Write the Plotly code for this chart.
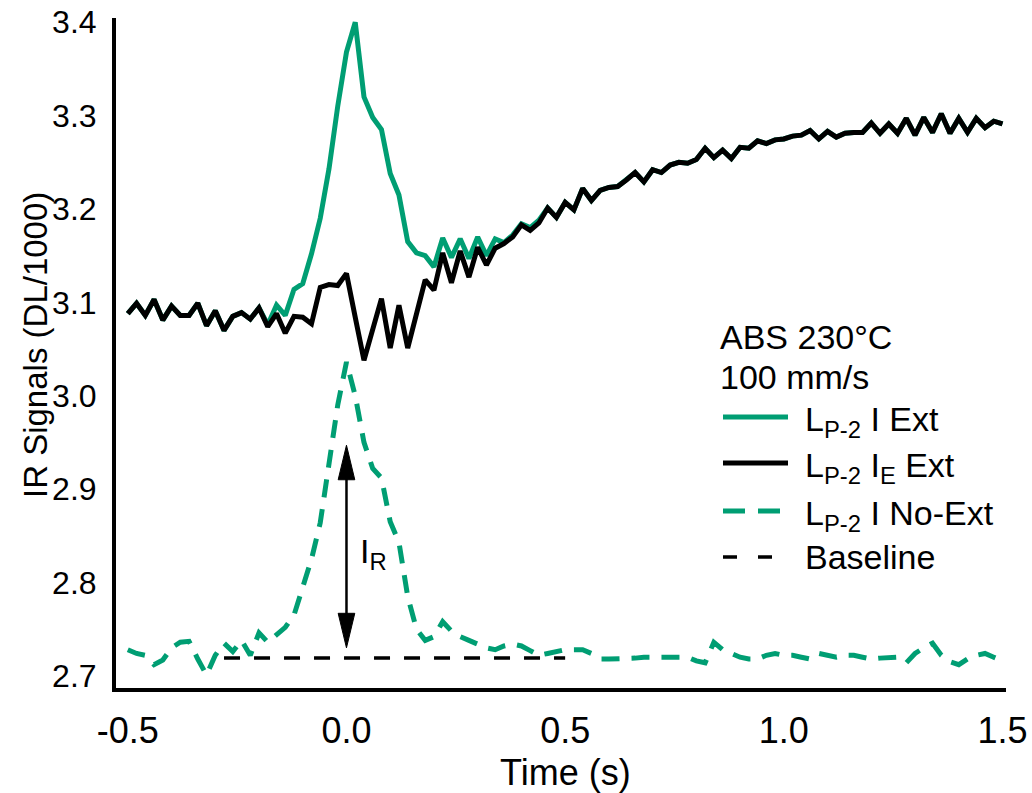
import plotly.graph_objects as go

# ---------------- data ----------------
TIME_START = -0.5
TIME_STEP = 0.02

ie_ext = [  # L_P-2 I_E Ext (black)
    3.088, 3.099, 3.086, 3.103, 3.081, 3.096, 3.086, 3.086, 3.099, 3.075,
    3.091, 3.070, 3.085, 3.089, 3.082, 3.094, 3.074, 3.088, 3.067, 3.085,
    3.084, 3.077, 3.116, 3.119, 3.118, 3.131, 3.084, 3.038, 3.071, 3.104,
    3.051, 3.097, 3.051, 3.087, 3.124, 3.113, 3.153, 3.121, 3.155, 3.127,
    3.159, 3.140, 3.158, 3.163, 3.170, 3.183, 3.177, 3.185, 3.201, 3.191,
    3.207, 3.199, 3.222, 3.209, 3.220, 3.223, 3.224, 3.231, 3.239, 3.229,
    3.242, 3.239, 3.247, 3.250, 3.249, 3.253, 3.265, 3.255, 3.263, 3.254,
    3.266, 3.265, 3.273, 3.270, 3.274, 3.275, 3.278, 3.279, 3.284, 3.275,
    3.283, 3.277, 3.281, 3.282, 3.282, 3.292, 3.281, 3.291, 3.281, 3.297,
    3.279, 3.298, 3.282, 3.302, 3.281, 3.297, 3.282, 3.297, 3.287, 3.294,
    3.291,
]

i_ext = [  # L_P-2 I Ext (green solid)
    3.088, 3.099, 3.086, 3.103, 3.081, 3.096, 3.086, 3.086, 3.099, 3.075,
    3.091, 3.070, 3.085, 3.089, 3.082, 3.094, 3.076, 3.097, 3.086, 3.114,
    3.120, 3.152, 3.190, 3.243, 3.310, 3.368, 3.400, 3.320, 3.298, 3.285,
    3.238, 3.215, 3.165, 3.153, 3.150, 3.138, 3.169, 3.148, 3.168, 3.147,
    3.170, 3.150, 3.168, 3.164, 3.172, 3.184, 3.180, 3.188, 3.201, 3.191,
    3.207, 3.199, 3.222, 3.209, 3.220, 3.223, 3.224, 3.231, 3.239, 3.229,
    3.242, 3.239, 3.247, 3.250, 3.249, 3.253, 3.265, 3.255, 3.263, 3.254,
    3.266, 3.265, 3.273, 3.270, 3.274, 3.275, 3.278, 3.279, 3.284, 3.275,
    3.283, 3.277, 3.281, 3.282, 3.282, 3.292, 3.281, 3.291, 3.281, 3.297,
    3.279, 3.298, 3.282, 3.302, 3.281, 3.297, 3.282, 3.297, 3.287, 3.294,
    3.291,
]

i_noext = [  # L_P-2 I No-Ext (green dashed)
    2.728, 2.724, 2.722, 2.712, 2.717, 2.730, 2.736, 2.737, 2.718, 2.701,
    2.722, 2.735, 2.726, 2.738, 2.722, 2.746, 2.736, 2.744, 2.752, 2.765,
    2.795, 2.825, 2.864, 2.925, 2.990, 3.036, 3.000, 2.950, 2.922, 2.912,
    2.865, 2.843, 2.785, 2.750, 2.738, 2.742, 2.758, 2.748, 2.742, 2.738,
    2.734, 2.730, 2.728, 2.732, 2.734, 2.732, 2.727, 2.722, 2.724, 2.726,
    2.728, 2.728, 2.728, 2.724, 2.718, 2.718, 2.718, 2.718, 2.719, 2.720,
    2.720, 2.720, 2.720, 2.719, 2.720, 2.716, 2.714, 2.736, 2.728, 2.724,
    2.720, 2.718, 2.718, 2.722, 2.724, 2.722, 2.722, 2.720, 2.718, 2.724,
    2.722, 2.720, 2.722, 2.722, 2.720, 2.718, 2.719, 2.720, 2.720, 2.714,
    2.724, 2.730, 2.735, 2.722, 2.715, 2.712, 2.718, 2.722, 2.724, 2.720,
    2.716,
]

time = [round(TIME_START + TIME_STEP * k, 2) for k in range(len(ie_ext))]

baseline_t = [-0.28, 0.50]
baseline_v = [2.719, 2.719]

ir_t = 0.0
ir_top = 2.947
ir_bottom = 2.730

x_ticks = [-0.5, 0.0, 0.5, 1.0, 1.5]
x_tick_labels = ["-0.5", "0.0", "0.5", "1.0", "1.5"]
y_ticks = [2.7, 2.8, 2.9, 3.0, 3.1, 3.2, 3.3, 3.4]
y_tick_labels = ["2.7", "2.8", "2.9", "3.0", "3.1", "3.2", "3.3", "3.4"]

legend_header = ["ABS 230°C", "100 mm/s"]
legend_labels = ["L<sub>P-2</sub> I Ext", "L<sub>P-2</sub> I<sub>E</sub> Ext",
                 "L<sub>P-2</sub> I No-Ext", "Baseline"]

# ---------------- style ----------------
GREEN = "#009E73"
W, H = 1032, 793
ML, MR, MT, MB = 116, 26, 18, 105
PW, PH = W - ML - MR, H - MT - MB
FONT = "Liberation Sans, Arial, sans-serif"


def px_x(px):
    return (px - ML) / PW


def px_y(py):
    return (H - MB - py) / PH


fig = go.Figure()
fig.add_trace(go.Scatter(x=time, y=i_noext, mode="lines",
                         line=dict(color=GREEN, width=5, dash="18px,12px"),
                         showlegend=False))
fig.add_trace(go.Scatter(x=baseline_t, y=baseline_v, mode="lines",
                         line=dict(color="black", width=3.5, dash="16px,14px"),
                         showlegend=False))
fig.add_trace(go.Scatter(x=time, y=i_ext, mode="lines",
                         line=dict(color=GREEN, width=5), showlegend=False))
fig.add_trace(go.Scatter(x=time, y=ie_ext, mode="lines",
                         line=dict(color="black", width=5), showlegend=False))

# I_R double arrow
head_len = 0.037
head_hw = 0.019
fig.add_shape(type="line", x0=ir_t, x1=ir_t, y0=ir_bottom + head_len * 0.5,
              y1=ir_top - head_len * 0.5, line=dict(color="black", width=2.5))
fig.add_shape(type="path",
              path=f"M {ir_t - head_hw},{ir_top - head_len} L {ir_t},{ir_top} "
                   f"L {ir_t + head_hw},{ir_top - head_len} Z",
              fillcolor="black", line=dict(color="black", width=1))
fig.add_shape(type="path",
              path=f"M {ir_t - head_hw},{ir_bottom + head_len} L {ir_t},{ir_bottom} "
                   f"L {ir_t + head_hw},{ir_bottom + head_len} Z",
              fillcolor="black", line=dict(color="black", width=1))
fig.add_annotation(x=ir_t, y=(ir_top + ir_bottom) / 2 - 0.007, xref="x", yref="y",
                   text="I<sub>R</sub>", showarrow=False, xanchor="left",
                   xshift=12, yanchor="middle",
                   font=dict(family=FONT, size=34, color="black"))

# legend (drawn manually)
hdr_rows = [337, 377]
for txt, py in zip(legend_header, hdr_rows):
    fig.add_annotation(x=px_x(718), y=px_y(py), xref="paper", yref="paper",
                       text=txt, showarrow=False, xanchor="left", yanchor="middle",
                       font=dict(family=FONT, size=34, color="black"))

item_rows = [417, 463, 511, 557]
item_styles = [
    dict(color=GREEN, width=5),
    dict(color="black", width=5),
    dict(color=GREEN, width=5, dash="22px,13px"),
    dict(color="black", width=3.5, dash="14px,21px"),
]
for lab, py, st in zip(legend_labels, item_rows, item_styles):
    fig.add_shape(type="line", xref="paper", yref="paper",
                  x0=px_x(723), x1=px_x(788), y0=px_y(py), y1=px_y(py), line=st)
    shift = -4 if "<sub>" in lab else 0
    fig.add_annotation(x=px_x(803), y=px_y(py), xref="paper", yref="paper",
                       text=lab, showarrow=False, xanchor="left", yanchor="middle",
                       yshift=shift,
                       font=dict(family=FONT, size=34, color="black"))

# axis titles
fig.add_annotation(x=px_x(35), y=px_y(345), xref="paper", yref="paper",
                   text="IR Signals (DL/1000)", textangle=-90, showarrow=False,
                   xanchor="center", yanchor="middle",
                   font=dict(family=FONT, size=33, color="black"))
fig.add_annotation(x=px_x(565), y=px_y(772), xref="paper", yref="paper",
                   text="Time (s)", showarrow=False,
                   xanchor="center", yanchor="middle",
                   font=dict(family=FONT, size=36, color="black"))

fig.update_layout(
    width=W, height=H,
    margin=dict(l=ML, r=MR, t=MT, b=MB, autoexpand=False),
    paper_bgcolor="white", plot_bgcolor="white",
    showlegend=False,
)
fig.update_xaxes(range=[-0.527, 1.508], tickvals=x_ticks, ticktext=x_tick_labels,
                 showgrid=False, zeroline=False, showline=True, linecolor="black",
                 linewidth=4, ticks="", ticklabelstandoff=8,
                 ticklabeloverflow="allow",
                 tickfont=dict(family=FONT, size=36, color="black"))
fig.update_yaxes(range=[2.687, 3.4045], tickvals=y_ticks, ticktext=y_tick_labels,
                 showgrid=False, zeroline=False, showline=True, linecolor="black",
                 linewidth=4, ticks="", ticklabelstandoff=9,
                 tickfont=dict(family=FONT, size=32, color="black"))

fig.write_html("out.html")
